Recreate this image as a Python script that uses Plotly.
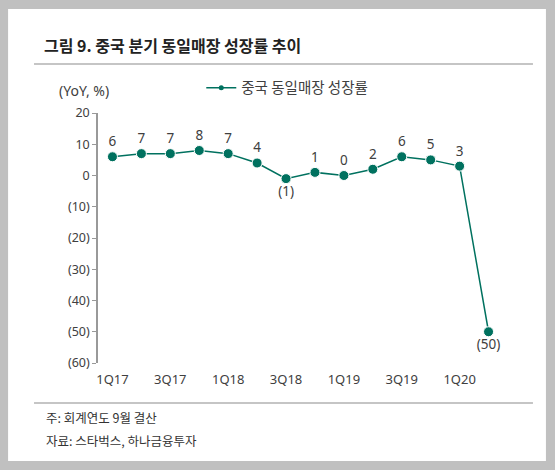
import plotly.graph_objects as go

quarters = ["1Q17", "2Q17", "3Q17", "4Q17", "1Q18", "2Q18", "3Q18", "4Q18",
            "1Q19", "2Q19", "3Q19", "4Q19", "1Q20", "2Q20"]
china_sss = [6, 7, 7, 8, 7, 4, -1, 1, 0, 2, 6, 5, 3, -50]
y_ticks = [20, 10, 0, -10, -20, -30, -40, -50, -60]

series_name = "중국 동일매장 성장률"
title = "그림 9. 중국 분기 동일매장 성장률 추이"
note1 = "주: 회계연도 9월 결산"
note2 = "자료: 스타벅스, 하나금융투자"
unit = "(YoY, %)"

def fmt(v):
    return f"({abs(v)})" if v < 0 else str(v)

idx = list(range(len(quarters)))
FONT = "Noto Sans, Noto Sans CJK KR, sans-serif"
KFONT = "Noto Sans CJK KR, Noto Sans, sans-serif"
TEAL = "#00715f"
TXT = "#404040"
GRAY_BG = "#c0c0c0"

fig = go.Figure()
fig.add_trace(go.Scatter(
    x=idx, y=china_sss, name=series_name, showlegend=False,
    mode="lines+markers+text",
    line=dict(color=TEAL, width=1.5),
    marker=dict(color=TEAL, size=10, line=dict(color="white", width=1)),
    text=[fmt(v) for v in china_sss],
    textposition=["bottom center" if v < 0 else "top center" for v in china_sss],
    textfont=dict(family=FONT, size=13.5, color=TXT),
    cliponaxis=False, hoverinfo="skip",
))
# legend entry (small dot on the line, as in the reference)
fig.add_trace(go.Scatter(
    x=[None], y=[None], name=series_name, mode="lines+markers",
    line=dict(color=TEAL, width=1.5), marker=dict(color=TEAL, size=5),
))

fig.update_layout(
    width=555, height=470,
    margin=dict(l=98, r=52, t=113, b=107),
    paper_bgcolor=GRAY_BG,
    plot_bgcolor="rgba(0,0,0,0)",
    showlegend=True,
    legend=dict(orientation="h", x=0.255, y=1.165, xanchor="left", yanchor="top",
                font=dict(family=KFONT, size=14.5, color=TXT), bgcolor="rgba(0,0,0,0)"),
    xaxis=dict(range=[-0.5, 13.5], tickvals=idx[::2], ticktext=quarters[::2],
               showline=False, ticks="", showgrid=False, zeroline=False,
               ticklabelstandoff=7,
               tickfont=dict(family=FONT, size=13, color=TXT)),
    xaxis2=dict(overlaying="x", anchor="free", position=0.75, range=[-0.5, 13.5],
                tickvals=[i + 0.5 for i in idx], ticks="outside", ticklen=4,
                tickcolor="#999999", showline=True, linecolor="#999999", linewidth=1.5,
                showticklabels=False, showgrid=False, zeroline=False),
    yaxis=dict(range=[-60, 20], tickvals=y_ticks, ticktext=[fmt(v) for v in y_ticks],
               showline=True, linecolor="#999999", linewidth=1.5, ticks="outside",
               ticklen=4, tickcolor="#999999", showgrid=False, zeroline=False,
               tickfont=dict(family=FONT, size=12.5, color=TXT)),
)

# white card, rules, texts (paper coordinates)
fig.add_shape(type="rect", xref="paper", yref="paper", x0=-0.222, x1=1.106,
              y0=-0.392, y1=1.416, fillcolor="white", line=dict(width=0), layer="below")
fig.add_shape(type="line", xref="paper", yref="paper", x0=-0.158, x1=1.074,
              y0=1.196, y1=1.196, line=dict(color="#8c8c8c", width=1.2))
fig.add_shape(type="line", xref="paper", yref="paper", x0=-0.158, x1=1.074,
              y0=-0.16, y1=-0.16, line=dict(color="#8c8c8c", width=1.2))

fig.add_annotation(xref="paper", yref="paper", x=-0.138, y=1.272, xanchor="left",
                   yanchor="middle", text=f"<b>{title}</b>", showarrow=False,
                   font=dict(family=KFONT, size=16, color="#222222"))
fig.add_annotation(xref="paper", yref="paper", x=-0.035, y=1.09, xanchor="center",
                   yanchor="middle", text=unit, showarrow=False,
                   font=dict(family=FONT, size=14, color=TXT))
fig.add_annotation(xref="paper", yref="paper", x=-0.133, y=-0.216, xanchor="left",
                   yanchor="middle", text=note1, showarrow=False,
                   font=dict(family=KFONT, size=12.5, color="#333333"))
fig.add_annotation(xref="paper", yref="paper", x=-0.133, y=-0.308, xanchor="left",
                   yanchor="middle", text=note2, showarrow=False,
                   font=dict(family=KFONT, size=12.5, color="#333333"))

fig.write_html(
    "out.html",
    config={"displayModeBar": False},
    post_script="document.body.style.margin='0';document.body.style.background='%s';" % GRAY_BG,
)
